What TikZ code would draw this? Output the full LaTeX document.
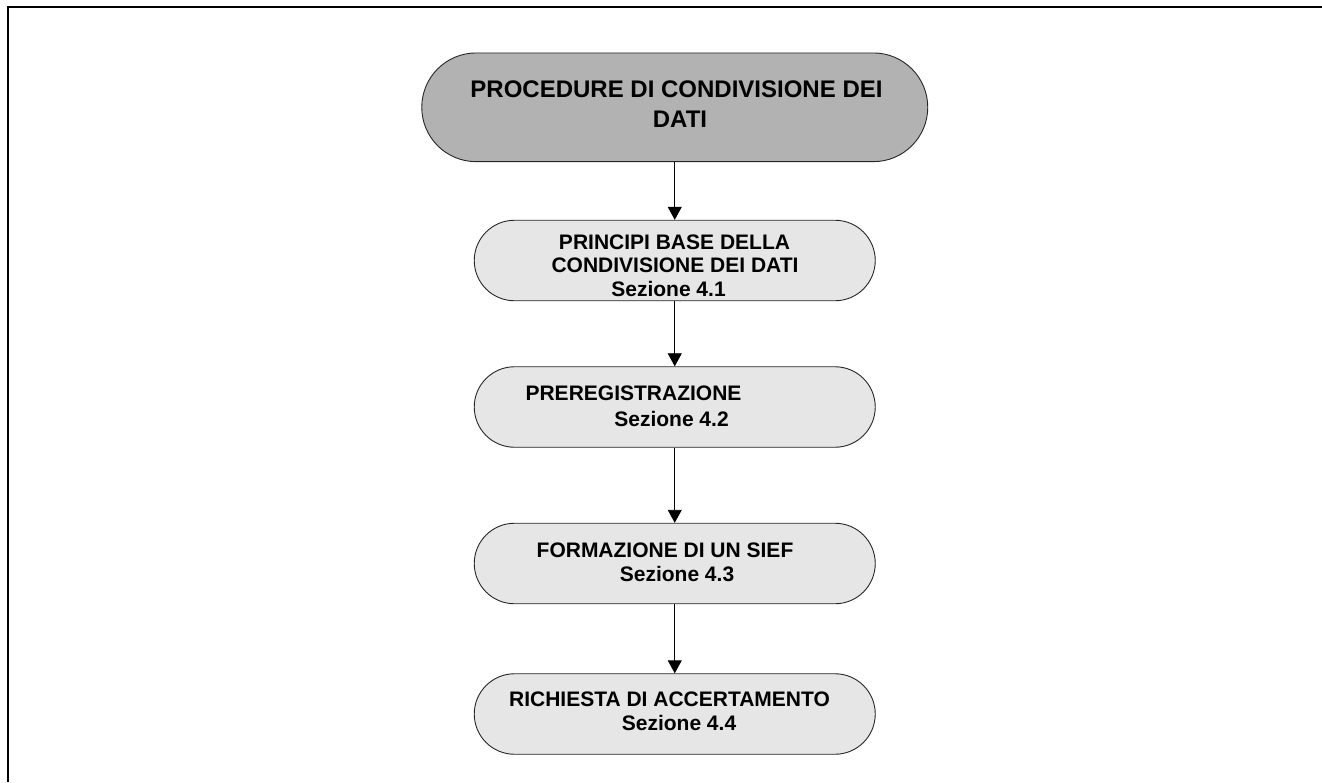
\documentclass[tikz,border=0pt]{standalone}
\usepackage{fontspec}
\setmainfont{Liberation Sans}
\usetikzlibrary{arrows.meta,shapes.misc}
\definecolor{kopfgrau}{RGB}{178,178,178}
\definecolor{schrittgrau}{RGB}{230,230,230}
\tikzset{
  pill/.style={rounded rectangle, draw=black!85, line width=0.9pt, fill=schrittgrau,
    minimum width=401pt, minimum height=80.5pt, inner sep=0pt},
  kopf/.style={pill, fill=kopfgrau, minimum width=506pt, minimum height=108.7pt},
  zeile/.style={anchor=base, inner sep=0pt, font=\fontsize{21}{25}\selectfont\bfseries},
  kopfzeile/.style={zeile, font=\fontsize{24}{29}\selectfont\bfseries},
  pfeil/.style={-{Triangle[length=13pt,width=14pt]}, line width=0.9pt}
}

\begin{document}
\begin{tikzpicture}[x=1pt,y=-1pt]
	%%%%% START %%%%%
	\useasboundingbox (0,0) rectangle (1322,782);
	\draw[line width=2.3pt, line join=miter] (7.7,782) -- (7.7,6.7) -- (1322,6.7);
	
	\node[kopf] (proc) at (674.75,107.3) {};
	\node[pill] (princ) at (674.75,260.5) {};
	\node[pill] (prereg) at (674.75,407) {};
	\node[pill] (sief) at (674.75,563.5) {};
	\node[pill] (accert) at (674.75,714) {};
	
	\node[kopfzeile] (proc1) at (676.5,97.7) {PROCEDURE DI CONDIVISIONE DEI};
	\node[kopfzeile] (proc2) at (680,127) {DATI};
	
	\node[zeile] (princ1) at (674.5,249) {PRINCIPI BASE DELLA};
	\node[zeile] (princ2) at (675,272.3) {CONDIVISIONE DEI DATI};
	\node[zeile] (princ3) at (668.5,296) {Sezione 4.1};
	
	\node[zeile] (prereg1) at (633.5,400.7) {PREREGISTRAZIONE};
	\node[zeile] (prereg2) at (671.5,426) {Sezione 4.2};
	
	\node[zeile] (sief1) at (665,557.3) {FORMAZIONE DI UN SIEF};
	\node[zeile] (sief2) at (677,581) {Sezione 4.3};
	
	\node[zeile] (accert1) at (669.5,706.7) {RICHIESTA DI ACCERTAMENTO};
	\node[zeile] (accert2) at (679,730) {Sezione 4.4};
	
	\draw[pfeil] (proc) -- (princ);
	\draw[pfeil] (princ) -- (prereg);
	\draw[pfeil] (prereg) -- (sief);
	\draw[pfeil] (sief) -- (accert);
	%%%%% END %%%%%
\end{tikzpicture}
\end{document}
